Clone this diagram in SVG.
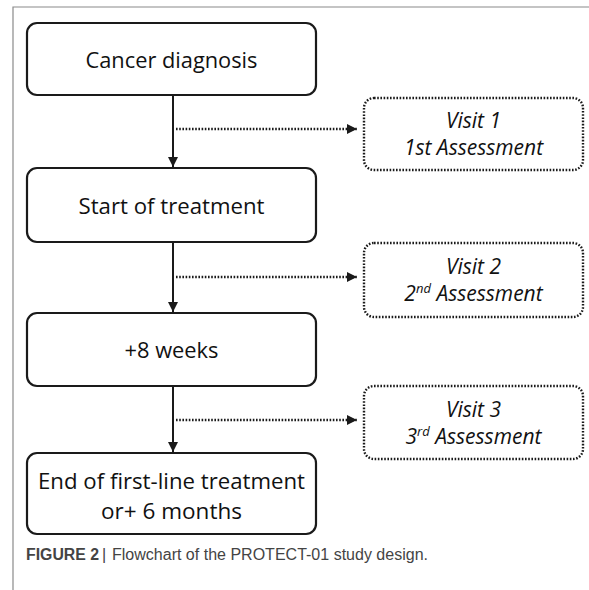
<svg xmlns="http://www.w3.org/2000/svg" width="589" height="590" viewBox="0 0 589 590">
<style>
.box{fill:#fff;stroke:#1a1a1a;stroke-width:2.2}
.dbox{fill:#fff;stroke:#1a1a1a;stroke-width:2.4;stroke-dasharray:1.6 1.6}
.t{font-family:"Open Sans","Liberation Sans",sans-serif;font-size:22px;fill:#111;text-anchor:middle}
.ti{font-family:"Open Sans","Liberation Sans",sans-serif;font-size:21px;fill:#111;text-anchor:middle;font-style:italic}
.solid{stroke:#1a1a1a;stroke-width:2;fill:none}
.dot{stroke:#1a1a1a;stroke-width:2.4;fill:none;stroke-dasharray:1.6 1.6}
.cap{font-family:"Liberation Sans",Arial,sans-serif;font-size:16px;fill:#444}
</style>
<defs>
<marker id="ah" viewBox="0 0 10 10" refX="10" refY="5" markerWidth="10" markerHeight="10" orient="auto" markerUnits="userSpaceOnUse">
<path d="M0,0 L10,5 L0,10 z" fill="#1a1a1a"/>
</marker>
</defs>
<rect width="589" height="590" fill="#fff"/>
<path d="M13,590 V7 H589" fill="none" stroke="#8a8a8a" stroke-width="1.2"/>
<g id="connectors">
<line class="solid" x1="173" y1="95" x2="173" y2="167" marker-end="url(#ah)"/>
<line class="solid" x1="173" y1="242" x2="173" y2="312" marker-end="url(#ah)"/>
<line class="solid" x1="173" y1="386" x2="173" y2="452" marker-end="url(#ah)"/>
<line class="dot" x1="176" y1="129" x2="357" y2="129" marker-end="url(#ah)"/>
<line class="dot" x1="176" y1="277" x2="357" y2="277" marker-end="url(#ah)"/>
<line class="dot" x1="176" y1="420" x2="357" y2="420" marker-end="url(#ah)"/>
</g>
<g id="n1"><rect class="box" x="27" y="23" width="289" height="72" rx="10"/><text class="t" x="171.5" y="68" textLength="172" lengthAdjust="spacingAndGlyphs">Cancer diagnosis</text></g>
<g id="n2"><rect class="box" x="27" y="168" width="289" height="74" rx="10"/><text class="t" x="171.5" y="214" textLength="186" lengthAdjust="spacingAndGlyphs">Start of treatment</text></g>
<g id="n3"><rect class="box" x="27" y="313" width="289" height="73" rx="10"/><text class="t" x="171.5" y="358" textLength="94" lengthAdjust="spacingAndGlyphs">+8 weeks</text></g>
<g id="n4"><rect class="box" x="27" y="453" width="289" height="81" rx="10"/><text class="t" x="171.5" y="489" textLength="267" lengthAdjust="spacingAndGlyphs">End of first-line treatment</text><text class="t" x="171.5" y="519" textLength="141" lengthAdjust="spacingAndGlyphs">or+ 6 months</text></g>
<g id="v1"><rect class="dbox" x="364" y="98" width="219" height="72" rx="10"/><text class="ti" x="473.5" y="128">Visit 1</text><text class="ti" x="473.5" y="155">1st Assessment</text></g>
<g id="v2"><rect class="dbox" x="364" y="243" width="219" height="74" rx="10"/><text class="ti" x="473.5" y="274">Visit 2</text><text class="ti" x="473.5" y="301">2<tspan font-size="13" dy="-8">nd</tspan><tspan dy="8"> Assessment</tspan></text></g>
<g id="v3"><rect class="dbox" x="364" y="386" width="219" height="73" rx="10"/><text class="ti" x="473.5" y="417">Visit 3</text><text class="ti" x="473.5" y="444">3<tspan font-size="13" dy="-8">rd</tspan><tspan dy="8"> Assessment</tspan></text></g>
<g id="caption">
<text class="cap" x="26" y="560" font-weight="bold" fill="#222" textLength="73" lengthAdjust="spacingAndGlyphs">FIGURE 2</text>
<text class="cap" x="102" y="560" fill="#555">|</text>
<text class="cap" x="112" y="560" textLength="316" lengthAdjust="spacingAndGlyphs">Flowchart of the PROTECT-01 study design.</text>
</g>
</svg>
